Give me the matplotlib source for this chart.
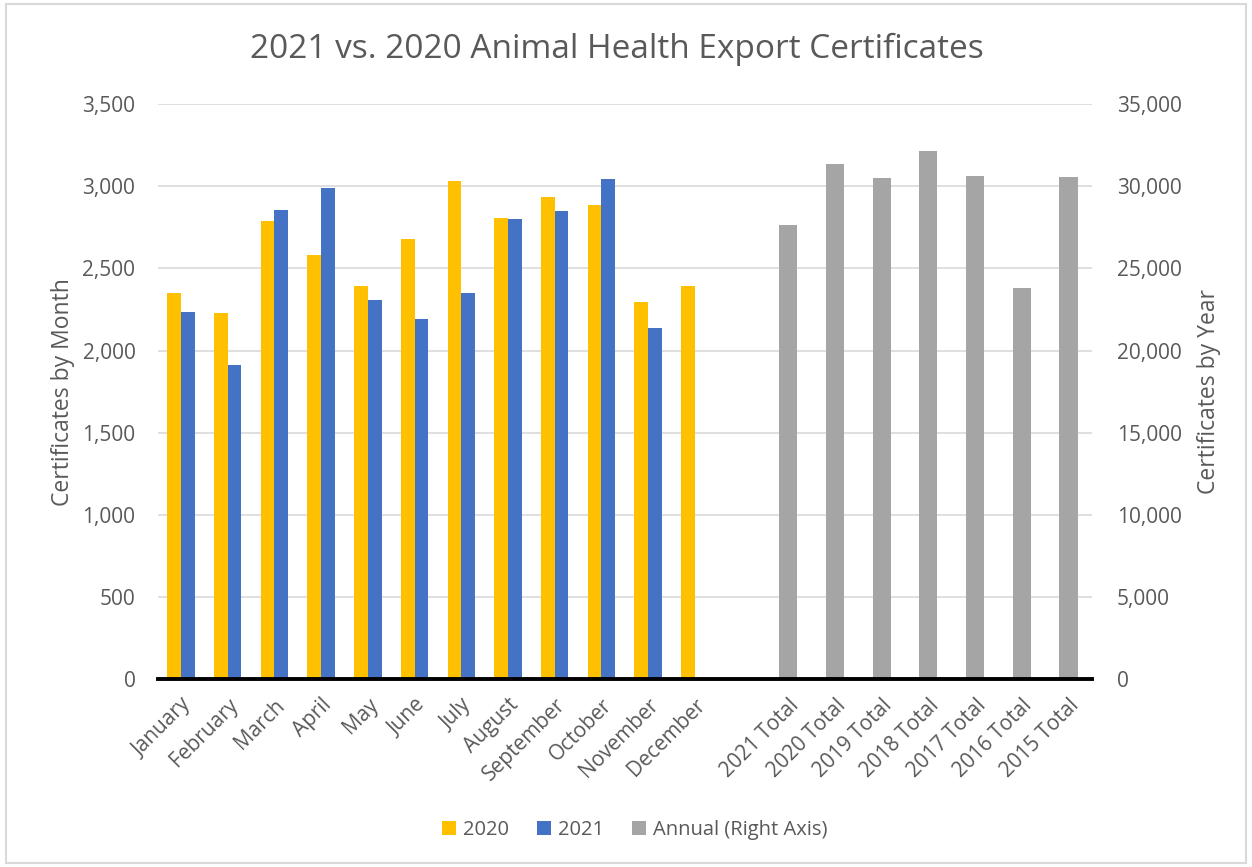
import matplotlib
matplotlib.use("Agg")
import matplotlib.pyplot as plt
import numpy as np
from matplotlib.ticker import FuncFormatter, MultipleLocator
from matplotlib.patches import Rectangle

# ---------------------------------------------------------------- data
months = ["January", "February", "March", "April", "May", "June", "July",
          "August", "September", "October", "November", "December"]
vals_2020 = [2351, 2227, 2789, 2584, 2394, 2677, 3032, 2805, 2937, 2884, 2294, 2392]
vals_2021 = [2235, 1911, 2856, 2988, 2310, 2191, 2348, 2801, 2848, 3042, 2136]

totals_labels = ["2021 Total", "2020 Total", "2019 Total", "2018 Total",
                 "2017 Total", "2016 Total", "2015 Total"]
totals_vals = [27646, 31356, 30487, 32147, 30627, 23814, 30584]

# ---------------------------------------------------------------- style
txt = "#595959"
grid_c = "#D9D9D9"
c2020 = "#FFC000"
c2021 = "#4472C4"
cann = "#A5A5A5"
plt.rcParams["font.family"] = ["Open Sans", "DejaVu Sans"]

fig = plt.figure(figsize=(12.52, 8.67), dpi=100)
ax = fig.add_axes([0.1259, 0.2163, 0.8721 - 0.1259, 0.880 - 0.2163])
ax2 = ax.twinx()

x_m = np.arange(len(months))
x_t = np.arange(len(totals_labels)) + len(months) + 1
w = 0.293

ax.bar(x_m - w / 2, vals_2020, w, color=c2020, label="2020", zorder=3)
ax.bar(x_m[:len(vals_2021)] + w / 2, vals_2021, w, color=c2021, label="2021", zorder=3)
ax2.bar(x_t, totals_vals, 0.39, color=cann, label="Annual (Right Axis)", zorder=3)

ax.set_xlim(-0.5, x_t[-1] + 0.5)
ax.set_ylim(0, 3500)
ax2.set_ylim(0, 35000)
ax.yaxis.set_major_locator(MultipleLocator(500))
ax2.yaxis.set_major_locator(MultipleLocator(5000))
fmt = FuncFormatter(lambda v, p: f"{int(v):,}")
ax.yaxis.set_major_formatter(fmt)
ax2.yaxis.set_major_formatter(fmt)

ax.grid(axis="y", color=grid_c, linewidth=1.2)
ax.set_axisbelow(True)
for a in (ax, ax2):
    for s in a.spines.values():
        s.set_visible(False)
ax2.spines["bottom"].set_visible(True)
ax2.spines["bottom"].set_color("black")
ax2.spines["bottom"].set_linewidth(2.8)
ax2.spines["bottom"].set_zorder(5)

ax.set_xticks(np.concatenate([x_m, x_t]))
ax.set_xticklabels(months + totals_labels, rotation=45, ha="right",
                   rotation_mode="anchor", fontsize=15, color=txt)
ax.tick_params(axis="x", length=0, pad=11)
ax.tick_params(axis="y", length=0, pad=16, labelsize=15, labelcolor=txt)
ax2.tick_params(axis="y", length=0, pad=18, labelsize=15, labelcolor=txt)

ax.set_ylabel("Certificates by Month", fontsize=16.5, color=txt, labelpad=5)
ax2.set_ylabel("Certificates by Year", fontsize=16.5, color=txt, labelpad=11)

fig.suptitle("2021 vs. 2020 Animal Health Export Certificates", fontsize=24,
             color=txt, x=0.493, y=0.943, va="center")

h1, l1 = ax.get_legend_handles_labels()
h2, l2 = ax2.get_legend_handles_labels()
fig.legend(h1 + h2, l1 + l2, loc="center", bbox_to_anchor=(0.507, 0.043), ncol=3,
           frameon=False, fontsize=14.5, labelcolor=txt, handlelength=0.7,
           handleheight=0.7, handletextpad=0.35, columnspacing=1.4)

fig.patches.append(Rectangle((0.005, 0.005), 0.99, 0.99, transform=fig.transFigure,
                             fill=False, edgecolor=grid_c, linewidth=1.5))

fig.savefig("out.png", dpi=100)
